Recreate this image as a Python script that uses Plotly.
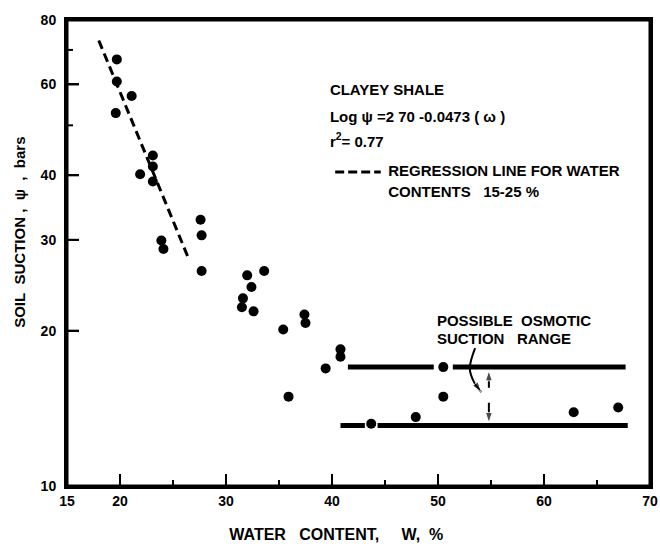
import numpy as np
import plotly.graph_objects as go

# Measured data points (water content %, soil suction bars)
water_content = [19.7, 19.7, 21.1, 19.6, 23.1, 23.1, 21.9, 23.1, 23.9, 24.1,
                 27.6, 27.7, 27.7, 32.0, 33.6, 32.4, 31.6, 31.5, 32.6, 35.4,
                 37.4, 37.5, 40.8, 40.8, 39.4, 35.9, 43.7, 50.5, 50.5, 47.9,
                 62.8, 67.0]
suction = [67.1, 60.8, 57.0, 52.8, 43.7, 41.6, 40.2, 38.9, 29.9, 28.8,
           32.8, 30.6, 26.1, 25.6, 26.1, 24.3, 23.1, 22.2, 21.8, 20.1,
           21.5, 20.7, 18.4, 17.8, 16.9, 14.9, 13.2, 17.0, 14.9, 13.6,
           13.9, 14.2]

# Regression line (water contents 15-25 %)
reg_w = [18.0, 26.5]
reg_psi = [73.0, 27.5]
# Key sample for the regression line
key_w = [40.3, 44.6]
key_psi = [40.6, 40.6]

# Possible osmotic suction range bounds (with gaps around points)
upper_w = [41.5, 49.6, None, 51.4, 67.7]
upper_psi = [17.0, 17.0, None, 17.0, 17.0]
lower_w = [40.8, 43.1, None, 44.3, 67.9]
lower_psi = [13.1, 13.1, None, 13.1, 13.1]

# Pointers for the osmotic range
up_arrow_w = [54.8, 54.8]
up_arrow_psi = [15.5, 16.75]
down_arrow_w = [54.8, 54.8]
down_arrow_psi = [14.5, 13.25]
curve_w = [53.5, 53.0, 53.4, 54.1]
curve_psi = [18.5, 16.9, 15.9, 15.2]

# Text labels (anchor in data space, left aligned)
label_texts = ["<b>CLAYEY SHALE</b>",
               "<b>Log ψ =2 70 -0.0473 ( ω )</b>",
               "<b>r<sup>2</sup>= 0.77</b>",
               "<b>REGRESSION LINE FOR WATER</b>",
               "<b>CONTENTS&nbsp;&nbsp;&nbsp;15-25 %</b>",
               "<b>POSSIBLE&nbsp;&nbsp;OSMOTIC</b>",
               "<b>SUCTION&nbsp;&nbsp;&nbsp;RANGE</b>"]
label_w = [39.8, 39.8, 39.8, 45.3, 45.3, 49.9, 49.9]
label_psi = [58.1, 51.7, 46.2, 40.6, 37.0, 20.8, 19.2]

x_title = ("<b>WATER&nbsp;&nbsp;&nbsp;CONTENT,&nbsp;&nbsp;&nbsp;&nbsp;&nbsp;W,&nbsp;&nbsp;%</b>"
           + "&nbsp;" * 10)
y_title = ("&nbsp;" * 10) + "<b>SOIL&nbsp;&nbsp;SUCTION&nbsp;,&nbsp;&nbsp;ψ&nbsp;&nbsp;,&nbsp;&nbsp;bars</b>"

X_RANGE = [15, 70]
Y_RANGE = [10, 80]
x_tickvals = [15, 20, 30, 40, 50, 60, 70]
x_ticktext = ["15", "20", "30", "40", "50", "60", "70"]
x_minor = [25, 35, 45, 55, 65]
y_tickvals = [10, 20, 30, 40, 60, 80]
y_ticktext = ["10", "20", "30", "40", "60", "80"]
y_minor = [50, 70]

FONT = "Liberation Sans"
fig = go.Figure()

# Frame and inside tick marks drawn from the axis ranges
x0, x1 = X_RANGE
y0, y1 = Y_RANGE
px_per_x = 583 / (x1 - x0)
px_per_dec = 466 / np.log10(y1 / y0)
def up(n):   # n pixels above the bottom axis, in data units
    return y0 * 10 ** (n / px_per_dec)
def right(n):
    return x0 + n / px_per_x
frame_x = [x0, x1, x1, x0, x0]
frame_y = [y0, y0, y1, y1, y0]
tick_x, tick_y = [], []
for v in x_tickvals[1:-1]:
    tick_x += [v, v, None]; tick_y += [y0, up(12), None]
for v in x_minor:
    tick_x += [v, v, None]; tick_y += [y0, up(6), None]
for v in y_tickvals[1:-1]:
    tick_x += [x0, right(12), None]; tick_y += [v, v, None]
for v in y_minor:
    tick_x += [x0, right(6), None]; tick_y += [v, v, None]
fig.add_trace(go.Scatter(x=tick_x, y=tick_y, mode="lines", cliponaxis=False,
                         line=dict(color="black", width=2)))
fig.add_trace(go.Scatter(x=frame_x, y=frame_y, mode="lines", cliponaxis=False,
                         line=dict(color="black", width=3)))

fig.add_trace(go.Scatter(x=reg_w, y=reg_psi, mode="lines",
                         line=dict(color="black", width=3, dash="9px,5px")))
fig.add_trace(go.Scatter(x=key_w, y=key_psi, mode="lines",
                         line=dict(color="black", width=3, dash="9px,4px")))
fig.add_trace(go.Scatter(x=upper_w, y=upper_psi, mode="lines",
                         line=dict(color="black", width=5)))
fig.add_trace(go.Scatter(x=lower_w, y=lower_psi, mode="lines",
                         line=dict(color="black", width=5)))
arrow_marker = dict(symbol="arrow", size=[0, 11], angleref="previous", color="black")
fig.add_trace(go.Scatter(x=up_arrow_w, y=up_arrow_psi, mode="lines+markers",
                         line=dict(color="black", width=2), marker=arrow_marker))
fig.add_trace(go.Scatter(x=down_arrow_w, y=down_arrow_psi, mode="lines+markers",
                         line=dict(color="black", width=2), marker=arrow_marker))
fig.add_trace(go.Scatter(x=curve_w, y=curve_psi, mode="lines+markers",
                         line=dict(color="black", width=2, shape="spline"),
                         marker=dict(symbol="arrow", size=[0, 0, 0, 11], angleref="previous",
                                     color="black")))
fig.add_trace(go.Scatter(x=water_content, y=suction, mode="markers",
                         marker=dict(color="black", size=10)))
fig.add_trace(go.Scatter(x=label_w, y=label_psi, mode="text", text=label_texts,
                         textposition="middle right", cliponaxis=False,
                         textfont=dict(family=FONT, size=15, color="black")))

fig.update_layout(
    width=660, height=556,
    margin=dict(l=67, r=10, t=20, b=70),
    paper_bgcolor="white", plot_bgcolor="white",
    showlegend=False,
)
fig.update_xaxes(range=X_RANGE, tickvals=x_tickvals,
                 ticktext=["<b>%s</b>" % t for t in x_ticktext],
                 ticks="inside", ticklen=12, tickwidth=2, tickcolor="black",
                 showline=True, linewidth=3, linecolor="black", mirror=True,
                 showgrid=False, zeroline=False, automargin=False,
                 tickfont=dict(family=FONT, size=14, color="black"),
                 title=dict(text=x_title, standoff=22,
                            font=dict(family=FONT, size=16, color="black")))
fig.update_yaxes(type="log", range=[np.log10(Y_RANGE[0]), np.log10(Y_RANGE[1])],
                 tickvals=y_tickvals,
                 ticktext=["<b>%s</b>" % t for t in y_ticktext],
                 ticks="inside", ticklen=12, tickwidth=2, tickcolor="black",
                 showline=True, linewidth=3, linecolor="black", mirror=True,
                 showgrid=False, zeroline=False, automargin=False, ticklabelstandoff=5,
                 tickfont=dict(family=FONT, size=14, color="black"),
                 title=dict(text=y_title, standoff=12,
                            font=dict(family=FONT, size=15, color="black")))

fig.write_html("out.html", config={"displayModeBar": False},
               post_script="document.body.style.margin='0';")
